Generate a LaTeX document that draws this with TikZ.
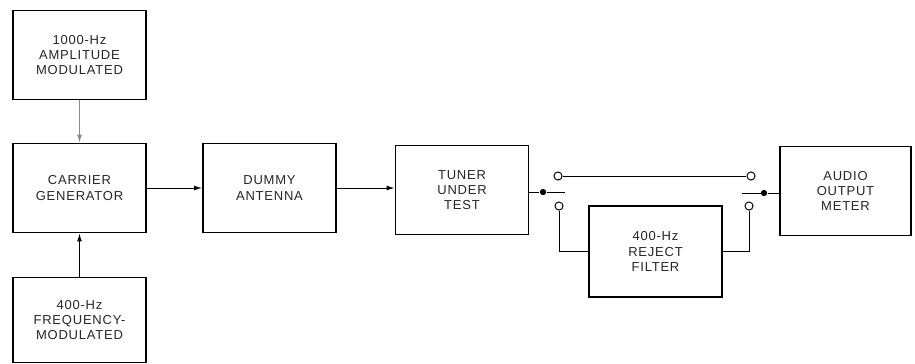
\documentclass[tikz,border=0pt]{standalone}
\usepackage{fontspec}
\setsansfont{Liberation Sans}[LetterSpace=6]
\usetikzlibrary{arrows.meta}

\tikzset{
  block/.style={draw, line width=1.1pt, minimum width=2.66cm, minimum height=1.78cm,
    align=center, font=\sffamily\fontsize{7.4}{8.6}\selectfont, text=black!85, inner sep=0pt},
  wire/.style={line width=0.55pt},
  feed/.style={wire, -{Latex[length=4.5pt,width=2.8pt]}},
  contact/.style={circle, draw, line width=0.55pt, fill=white, minimum size=4.6pt, inner sep=0pt},
  joint/.style={circle, fill=black, minimum size=3.6pt, inner sep=0pt}
}

\begin{document}
\begin{tikzpicture}[x=0.02cm, y=-0.02cm]

\useasboundingbox (0,0) rectangle (915,363);

% Blocks
\node[block] (am) at (79.5,55) {1000-Hz\\AMPLITUDE\\MODULATED};
\node[block] (carrier) at (79.5,188) {CARRIER\\GENERATOR};
\node[block, minimum height=1.7cm] (fm) at (79.5,320) {400-Hz\\FREQUENCY-\\MODULATED};
\node[block] (dummy) at (269.5,188) {DUMMY\\ANTENNA};
\node[block] (tuner) at (462,190) {TUNER\\UNDER\\TEST};
\node[block, minimum height=1.82cm] (filter) at (655.5,251.5) {400-Hz\\REJECT\\FILTER};
\node[block, minimum width=2.62cm] (meter) at (845.5,191) {AUDIO\\OUTPUT\\METER};

% Modulation inputs
\draw[feed, black!45] (am) -- (carrier);
\draw[feed] (fm) -- (carrier);

% Signal chain
\draw[feed] (carrier) -- (dummy);
\draw[feed] (dummy.east) -- (dummy.east -| tuner.west);

% Switch terminals
\coordinate (inEnd) at (565,192);
\coordinate (outEnd) at (742,193);
\node[joint] (inJoint) at (543,192) {};
\node[joint] (outJoint) at (764,193) {};
\node[contact] (inA) at (558,176) {};
\node[contact] (inB) at (559,206) {};
\node[contact] (outA) at (751,176) {};
\node[contact] (outB) at (749,206) {};

% Switch wiring
\draw[wire] (tuner.east |- inJoint) -- (inJoint) -- (inEnd);
\draw[wire] (outEnd) -- (outJoint) -- (meter.west |- outJoint);
\draw[wire] (inA) -- (outA);
\draw[wire] (inB) |- (filter.west);
\draw[wire] (outB) |- (filter.east);

\end{tikzpicture}
\end{document}
